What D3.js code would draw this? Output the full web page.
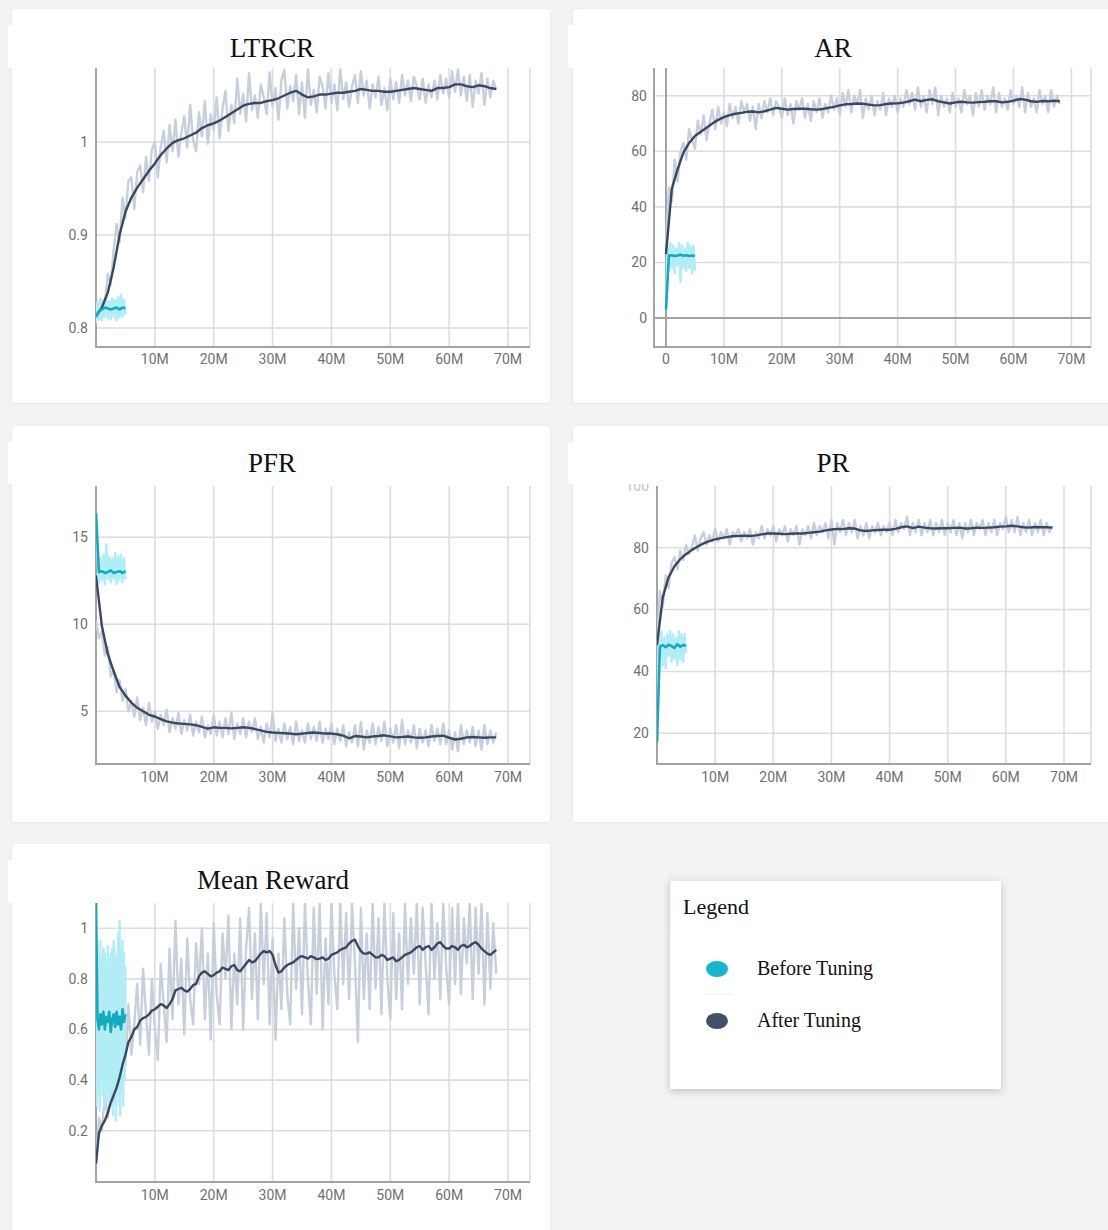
<!DOCTYPE html>
<html>
<head>
<meta charset="utf-8">
<script src="https://cdn.jsdelivr.net/npm/d3@7"></script>
<style>
  html, body { margin: 0; padding: 0; background: #f2f3f5; }
  svg { display: block; }
</style>
</head>
<body>
<svg id="chart" width="1108" height="1230"></svg>
<script>
// ---------- shared axis values ----------
const xTickValues = [10, 20, 30, 40, 50, 60, 70];
const xTickLabels = ["10M", "20M", "30M", "40M", "50M", "60M", "70M"];
const afterEndM = 68;   // last step of the tuned run (millions)
const beforeEndM = 5;   // last step of the untuned run (millions)

// ---------- LTRCR ----------
const ltrcrYTicks = [0.8, 0.9, 1];
const ltrcrAfterSmooth = [0.813,0.822,0.838,0.865,0.900,0.925,0.940,0.951,0.960,0.969,0.977,0.986,0.993,0.999,1.002,1.004,1.007,1.010,1.015,1.018,1.020,1.023,1.027,1.031,1.035,1.039,1.041,1.042,1.042,1.044,1.045,1.047,1.050,1.053,1.055,1.051,1.048,1.049,1.051,1.051,1.052,1.053,1.053,1.054,1.055,1.057,1.056,1.055,1.055,1.054,1.054,1.055,1.056,1.057,1.058,1.057,1.056,1.055,1.058,1.058,1.059,1.062,1.062,1.060,1.059,1.061,1.060,1.058,1.057];
const ltrcrAfterRaw = [0.816,0.809,0.830,0.826,0.858,0.846,0.884,0.912,0.892,0.940,0.918,0.958,0.962,0.928,0.968,0.975,0.946,0.984,0.958,0.992,1.000,0.962,0.994,1.012,0.978,1.018,0.990,1.024,0.984,1.010,1.028,0.994,1.040,1.002,0.990,1.032,1.006,1.044,0.998,1.030,1.012,1.048,1.004,1.036,1.055,1.012,1.040,1.020,1.068,1.030,1.052,1.022,1.074,1.034,1.050,1.026,1.062,1.048,1.030,1.075,1.038,1.058,1.024,1.066,1.078,1.036,1.060,1.044,1.072,1.030,1.064,1.026,1.078,1.040,1.056,1.032,1.070,1.060,1.036,1.074,1.042,1.062,1.034,1.078,1.046,1.064,1.038,1.060,1.072,1.042,1.076,1.050,1.066,1.036,1.062,1.048,1.070,1.040,1.058,1.034,1.068,1.046,1.064,1.042,1.072,1.050,1.066,1.044,1.070,1.060,1.046,1.068,1.042,1.062,1.048,1.066,1.046,1.072,1.052,1.068,1.048,1.076,1.054,1.078,1.050,1.070,1.044,1.072,1.038,1.066,1.052,1.074,1.040,1.068,1.048,1.066,1.056];
const ltrcrBeforeSmooth = [0.812,0.818,0.820,0.822,0.821,0.820,0.821,0.822,0.820,0.822,0.821];
const ltrcrBeforeRaw = [0.805,0.828,0.810,0.832,0.808,0.830,0.812,0.834,0.810,0.829,0.809,0.832,0.812,0.830,0.808,0.833,0.811,0.836,0.812,0.830,0.814];

// ---------- AR ----------
const arYTicks = [0, 20, 40, 60, 80];
const arAfterSmooth = [23,46.5,53.5,59.5,63,65.5,67,68.5,70,71.3,72.3,73,73.5,73.8,74.2,74.3,74,74.4,75,75.6,75.3,75,75.2,75.3,75.3,75.1,75,75.2,75.6,76,76.5,76.9,77,77.2,77.1,76.8,76.5,76.6,77,77.2,77.3,77.5,78,78.6,78,78.5,78.7,78,77.6,77.2,77.6,77.8,77.6,77.5,77.7,77.8,78,78,77.6,77.8,78.2,78.8,78.6,78,77.8,78.1,78,78.2,78];
const arAfterRaw = [26,47,42,57,49,60,63,57,68,64,61,71,66,73,64,70,75,68,76,70,74,69,77,72,76,70,78,74,77,71,76,68,77,72,78,74,79,73,78,76,72,79,73,77,70,78,75,79,72,77,71,78,74,79,72,77,74,80,75,79,73,81,76,82,74,80,77,82,72,79,75,80,73,78,75,81,73,79,76,80,74,79,76,82,77,81,75,83,76,80,74,82,77,83,73,80,76,79,74,81,76,79,74,82,77,80,73,81,76,82,75,80,77,83,74,81,76,79,75,82,77,80,76,83,74,81,76,79,74,82,77,80,74,82,76,80,77];
const arBeforeSmooth = [3,22.5,22.6,22.3,22.5,22.8,22.4,22.6,22.3,22.5,22.3];
const arBeforeRaw = [3,26,17,27,18,26,16,25,19,27,13,26,18,25,17,27,18,26,16,26,17];

// ---------- PFR ----------
const pfrYTicks = [5, 10, 15];
const pfrAfterSmooth = [12.8,9.9,8.3,7.3,6.4,5.9,5.5,5.2,5.0,4.8,4.7,4.55,4.42,4.35,4.3,4.28,4.25,4.2,4.1,4.0,4.08,4.05,4.05,4.02,4.05,4.08,4.05,3.98,3.9,3.82,3.78,3.76,3.74,3.72,3.68,3.72,3.75,3.78,3.75,3.72,3.72,3.68,3.6,3.45,3.58,3.55,3.5,3.55,3.58,3.62,3.56,3.5,3.52,3.55,3.5,3.48,3.5,3.55,3.58,3.6,3.48,3.38,3.42,3.5,3.52,3.5,3.48,3.5,3.5];
const pfrAfterRaw = [10.2,9.2,9.6,8.2,8.7,7.0,7.4,6.1,6.8,5.6,6.3,5.0,5.6,4.7,5.8,4.5,5.2,4.2,5.5,4.4,5.0,4.0,4.8,4.2,5.1,3.8,4.6,4.0,4.9,3.7,4.5,3.9,4.8,3.6,4.4,3.8,4.7,3.5,4.2,3.7,4.8,3.6,4.4,3.5,4.6,3.7,4.9,3.4,4.3,3.7,4.6,3.5,4.4,3.8,4.6,3.4,4.1,3.2,4.3,3.5,4.9,3.3,4.0,3.2,4.3,3.4,4.1,3.1,4.4,3.3,3.9,3.2,4.3,3.4,4.1,3.3,4.4,3.2,4.0,3.4,4.3,3.1,4.0,3.3,4.2,3.0,3.8,3.2,4.2,3.0,4.4,2.8,3.9,3.2,4.3,3.1,4.1,3.3,4.4,3.0,4.0,3.2,4.2,2.9,4.5,3.1,3.9,3.2,4.2,2.9,4.0,3.2,3.9,3.0,4.2,3.3,4.0,3.1,4.3,3.1,3.9,2.8,3.8,2.7,4.2,3.1,3.9,3.2,4.1,3.0,3.9,2.8,4.2,3.1,3.9,3.2,3.8];
const pfrBeforeSmooth = [16.4,13.0,13.05,12.95,13.0,13.1,12.95,13.0,13.05,12.95,13.05];
const pfrBeforeRaw = [16.4,13.9,12.4,13.8,12.5,14.0,12.3,14.6,12.6,13.9,12.4,13.8,12.6,14.1,12.3,13.9,12.5,14.0,12.4,13.8,12.6];

// ---------- PR ----------
const prYTicks = [20, 40, 60, 80];
const prAfterSmooth = [48.5,64,70.5,74,76.3,77.9,79.3,80.4,81.4,82.1,82.7,83.1,83.4,83.7,83.8,83.9,83.8,84.0,84.3,84.6,84.6,84.5,84.4,84.5,84.6,84.6,84.8,85.0,85.2,85.6,85.9,86.1,86.0,86.3,86.2,85.6,85.4,85.6,85.7,85.8,85.8,86.1,86.6,86.9,86.3,86.8,86.5,86.3,86.2,86.3,86.3,86.4,86.5,86.2,86.3,86.5,86.4,86.5,86.6,86.8,86.9,87.1,86.9,86.6,86.5,86.7,86.6,86.6,86.5];
const prAfterRaw = [50,66,61,71,67,75,77,73,79,76,81,78,80,84,79,83,85,81,84,82,86,82,85,83,86,81,85,84,86,82,85,83,86,81,85,83,87,83,86,84,87,82,86,84,87,82,86,84,87,81,86,84,87,83,88,84,87,85,88,83,89,81,88,85,89,84,88,85,89,83,87,84,88,83,87,85,88,84,87,85,88,84,89,85,88,86,90,84,88,85,89,84,88,85,89,84,88,85,89,84,88,85,89,84,88,83,88,85,89,84,88,86,89,84,88,85,89,84,88,86,90,85,89,85,90,84,88,85,89,84,88,85,89,84,88,85,87];
const prBeforeSmooth = [17,48,48.5,47.8,48.6,48.2,47.6,48.8,48.0,48.5,48.3];
const prBeforeRaw = [17,52,44,53,42,51,41,52,45,53,43,52,44,51,42,53,44,52,43,52,46];

// ---------- Mean Reward ----------
const mrYTicks = [0.2, 0.4, 0.6, 0.8, 1];
const mrAfterSmooth = [0.07,0.19,0.22,0.24,0.27,0.31,0.34,0.37,0.41,0.46,0.50,0.55,0.57,0.60,0.61,0.635,0.645,0.65,0.66,0.675,0.68,0.69,0.70,0.695,0.685,0.70,0.72,0.755,0.76,0.765,0.755,0.75,0.76,0.775,0.78,0.81,0.825,0.83,0.82,0.81,0.815,0.825,0.83,0.845,0.84,0.835,0.85,0.855,0.835,0.83,0.845,0.86,0.875,0.865,0.87,0.885,0.90,0.91,0.905,0.91,0.895,0.855,0.825,0.83,0.845,0.855,0.86,0.865,0.875,0.885,0.89,0.885,0.88,0.89,0.885,0.878,0.88,0.885,0.875,0.88,0.895,0.90,0.905,0.915,0.92,0.925,0.94,0.95,0.955,0.93,0.91,0.90,0.90,0.905,0.895,0.885,0.885,0.895,0.89,0.875,0.88,0.885,0.87,0.875,0.885,0.895,0.90,0.905,0.915,0.925,0.93,0.915,0.925,0.93,0.915,0.925,0.94,0.945,0.93,0.92,0.92,0.93,0.925,0.915,0.93,0.935,0.925,0.93,0.94,0.945,0.935,0.92,0.91,0.90,0.895,0.905,0.915];
const mrAfterRaw = [0.08,0.25,0.2,0.34,0.25,0.36,0.31,0.43,0.37,0.52,0.46,0.7,0.5,0.62,0.78,0.54,0.84,0.66,0.5,0.8,0.6,0.48,0.86,0.7,0.55,0.92,0.64,1.03,0.7,0.88,0.58,0.96,0.72,0.62,0.94,0.78,1.0,0.64,0.9,0.56,1.02,0.74,0.62,0.98,0.8,1.05,0.6,0.9,0.7,1.04,0.6,0.92,1.08,0.72,0.98,0.64,1.1,0.78,1.06,0.62,0.96,0.56,0.9,0.68,1.04,0.74,0.62,1.1,0.76,1.0,0.66,1.1,0.8,0.62,1.08,0.74,1.1,0.6,0.96,0.7,1.1,0.82,0.68,1.1,0.78,1.06,0.72,1.1,0.86,0.55,1.08,0.72,0.98,0.68,1.1,0.76,1.04,0.66,1.1,0.8,0.64,1.06,0.72,0.98,0.68,1.1,0.78,1.04,0.82,1.1,0.7,1.08,0.86,0.66,1.1,0.8,1.02,0.72,1.1,0.84,0.7,1.08,0.78,1.1,0.74,1.04,0.86,1.1,0.72,1.08,0.82,1.1,0.7,1.06,0.76,1.02,0.82];
const mrBeforeSmooth = [1.1,0.64,0.6,0.66,0.62,0.67,0.6,0.65,0.63,0.67,0.59,0.64,0.66,0.61,0.67,0.62,0.65,0.6,0.68,0.63,0.66];
const mrBeforeRaw = [1.1,0.3,0.95,0.35,0.9,0.28,0.95,0.4,0.88,0.34,0.92,0.3,0.9,0.38,0.86,0.32,0.93,0.36,0.88,0.3,0.9,0.35,0.92,0.26,0.95,0.38,0.9,0.24,0.88,0.34,0.98,0.3,1.03,0.26,0.92,0.36,0.95,0.3,0.9,0.4,0.85];

// ---------- legend ----------
const legendLabels = ["Before Tuning", "After Tuning"];

// ---------- style ----------
const C = {
  grid: "#dddddd",
  axis: "#a3a3a3",
  tick: "#707070",
  afterRaw: "#c8cfdc",
  afterLine: "#3b4760",
  beforeRaw: "#b2ecf4",
  beforeLine: "#14a9bd",
  dotBefore: "#17b6cd",
  dotAfter: "#435069"
};

// ---------- panel layout ----------
const panels = [
  { id: "ltrcr", title: "LTRCR", card: [12, 9, 538, 394], band: [8, 25, 542, 43], tx: 272, ty: 57,
    f: { l: 96, r: 530, t: 68, b: 347 }, xr: [96, 508], yd: [0.8, 1], yr: [328, 142],
    yTicks: ltrcrYTicks, lx: 88, xly: 364,
    after: [ltrcrAfterRaw, ltrcrAfterSmooth], before: [ltrcrBeforeRaw, ltrcrBeforeSmooth] },
  { id: "ar", title: "AR", card: [573, 9, 545, 394], band: [568, 25, 550, 43], tx: 833, ty: 57,
    f: { l: 654, r: 1091, t: 68, b: 347 }, xr: [666, 1071.4], yd: [0, 80], yr: [318, 95.7],
    yTicks: arYTicks, lx: 647, xly: 364, zeroLines: true,
    after: [arAfterRaw, arAfterSmooth], before: [arBeforeRaw, arBeforeSmooth] },
  { id: "pfr", title: "PFR", card: [12, 426, 538, 396], band: [8, 442, 542, 42], tx: 272, ty: 472,
    f: { l: 96, r: 530, t: 486, b: 764 }, xr: [96, 508], yd: [5, 15], yr: [711.3, 537.3],
    yTicks: pfrYTicks, lx: 88, xly: 782,
    after: [pfrAfterRaw, pfrAfterSmooth], before: [pfrBeforeRaw, pfrBeforeSmooth] },
  { id: "pr", title: "PR", card: [573, 426, 545, 396], band: [568, 442, 550, 42], tx: 833, ty: 472,
    f: { l: 657, r: 1091, t: 486, b: 764 }, xr: [657, 1064], yd: [20, 80], yr: [733.3, 547.7],
    yTicks: prYTicks, lx: 649, xly: 782, hiddenTop: 100,
    after: [prAfterRaw, prAfterSmooth], before: [prBeforeRaw, prBeforeSmooth] },
  { id: "mr", title: "Mean Reward", card: [12, 844, 538, 400], band: [8, 860, 542, 43], tx: 273, ty: 889,
    f: { l: 96, r: 530, t: 903, b: 1182 }, xr: [96, 508], yd: [0.2, 1], yr: [1130.7, 928.3],
    yTicks: mrYTicks, lx: 88, xly: 1200,
    after: [mrAfterRaw, mrAfterSmooth], before: [mrBeforeRaw, mrBeforeSmooth] }
];

const svg = d3.select("#chart");
const defs = svg.append("defs");

const shadow = defs.append("filter").attr("id", "cardShadow")
  .attr("x", "-10%").attr("y", "-10%").attr("width", "120%").attr("height", "120%");
shadow.append("feDropShadow").attr("dx", 0).attr("dy", 0.5).attr("stdDeviation", 0.8)
  .attr("flood-color", "#000").attr("flood-opacity", 0.08);

const legendShadow = defs.append("filter").attr("id", "legendShadow")
  .attr("x", "-10%").attr("y", "-10%").attr("width", "120%").attr("height", "125%");
legendShadow.append("feDropShadow").attr("dx", 0).attr("dy", 2).attr("stdDeviation", 4)
  .attr("flood-color", "#000").attr("flood-opacity", 0.22);

// pairs each value with its training step (millions)
function toPoints(values, endM) {
  const step = endM / (values.length - 1);
  return values.map((v, i) => [i * step, v]);
}

panels.forEach(p => {
  const g = svg.append("g").attr("class", "panel-" + p.id);
  const x = d3.scaleLinear().domain([0, 70]).range(p.xr);
  const y = d3.scaleLinear().domain(p.yd).range(p.yr);

  // card
  g.append("rect").attr("x", p.card[0]).attr("y", p.card[1])
    .attr("width", p.card[2]).attr("height", p.card[3]).attr("rx", 4)
    .attr("fill", "#fff").attr("filter", "url(#cardShadow)");

  // grid
  const grid = g.append("g");
  grid.selectAll("line.h").data(p.yTicks).join("line")
    .attr("x1", p.f.l).attr("x2", p.f.r)
    .attr("y1", d => y(d)).attr("y2", d => y(d))
    .attr("stroke", C.grid).attr("stroke-width", 1.6);
  grid.selectAll("line.v").data(xTickValues).join("line")
    .attr("x1", d => x(d)).attr("x2", d => x(d))
    .attr("y1", p.f.t).attr("y2", p.f.b)
    .attr("stroke", C.grid).attr("stroke-width", 1.6);
  grid.append("line").attr("x1", p.f.r).attr("x2", p.f.r).attr("y1", p.f.t).attr("y2", p.f.b)
    .attr("stroke", C.grid).attr("stroke-width", 1.6);

  if (p.zeroLines) {
    grid.append("line").attr("x1", p.f.l).attr("x2", p.f.r).attr("y1", y(0)).attr("y2", y(0))
      .attr("stroke", C.axis).attr("stroke-width", 2);
    grid.append("line").attr("x1", x(0)).attr("x2", x(0)).attr("y1", p.f.t).attr("y2", p.f.b)
      .attr("stroke", C.axis).attr("stroke-width", 2);
  }

  // axes
  g.append("line").attr("x1", p.f.l).attr("x2", p.f.l).attr("y1", p.f.t).attr("y2", p.f.b + 1)
    .attr("stroke", C.axis).attr("stroke-width", 2);
  g.append("line").attr("x1", p.f.l).attr("x2", p.f.r).attr("y1", p.f.b).attr("y2", p.f.b)
    .attr("stroke", C.axis).attr("stroke-width", 2);

  // tick labels
  const font = "Roboto, 'Open Sans', sans-serif";
  g.selectAll("text.yt").data(p.yTicks).join("text")
    .attr("x", p.lx).attr("y", d => y(d)).attr("dy", "0.35em")
    .attr("text-anchor", "end").attr("font-family", font).attr("font-size", 14)
    .attr("fill", C.tick).text(d => d3.format("~g")(d));
  if (p.hiddenTop) {
    g.append("text").attr("x", p.lx).attr("y", y(p.hiddenTop)).attr("dy", "0.35em")
      .attr("text-anchor", "end").attr("font-family", font).attr("font-size", 14)
      .attr("fill", "#c4c4c4").text(p.hiddenTop);
  }
  const xl = p.zeroLines ? [0, ...xTickValues] : xTickValues;
  const xlText = p.zeroLines ? ["0", ...xTickLabels] : xTickLabels;
  g.selectAll("text.xt").data(xl).join("text")
    .attr("x", d => x(d)).attr("y", p.xly)
    .attr("text-anchor", "middle").attr("font-family", font).attr("font-size", 14)
    .attr("fill", C.tick).text((d, i) => xlText[i]);

  // series
  const clipId = "clip-" + p.id;
  defs.append("clipPath").attr("id", clipId).append("rect")
    .attr("x", p.f.l).attr("y", p.f.t).attr("width", p.f.r - p.f.l).attr("height", p.f.b - p.f.t);
  const plot = g.append("g").attr("clip-path", `url(#${clipId})`);
  const line = d3.line().x(d => x(d[0])).y(d => y(d[1]));

  plot.append("path").attr("d", line(toPoints(p.after[0], afterEndM)))
    .attr("fill", "none").attr("stroke", C.afterRaw).attr("stroke-width", 2.4)
    .attr("stroke-linejoin", "round");
  plot.append("path").attr("d", line(toPoints(p.before[0], beforeEndM)))
    .attr("fill", "none").attr("stroke", C.beforeRaw).attr("stroke-width", 2.4)
    .attr("stroke-linejoin", "round");
  plot.append("path").attr("d", line(toPoints(p.after[1], afterEndM)))
    .attr("fill", "none").attr("stroke", C.afterLine).attr("stroke-width", 2.4)
    .attr("stroke-linejoin", "round");
  plot.append("path").attr("d", line(toPoints(p.before[1], beforeEndM)))
    .attr("fill", "none").attr("stroke", C.beforeLine).attr("stroke-width", 2.6)
    .attr("stroke-linejoin", "round");

  // title band
  g.append("rect").attr("x", p.band[0]).attr("y", p.band[1])
    .attr("width", p.band[2]).attr("height", p.band[3]).attr("fill", "#fff");
  g.append("text").attr("x", p.tx).attr("y", p.ty).attr("text-anchor", "middle")
    .attr("font-family", "'Liberation Serif', 'Times New Roman', serif")
    .attr("font-size", 27).attr("fill", "#111").text(p.title);
});

// ---------- legend ----------
const lg = svg.append("g").attr("class", "legend");
lg.append("rect").attr("x", 670).attr("y", 881).attr("width", 331).attr("height", 208)
  .attr("fill", "#fff").attr("filter", "url(#legendShadow)");
lg.append("line").attr("x1", 670).attr("x2", 670).attr("y1", 870).attr("y2", 930)
  .attr("stroke", "#dfe5f0").attr("stroke-width", 1);
lg.append("text").attr("x", 683).attr("y", 914)
  .attr("font-family", "'Liberation Serif', 'Times New Roman', serif")
  .attr("font-size", 22).attr("fill", "#111").text("Legend");
lg.append("line").attr("x1", 703).attr("x2", 733).attr("y1", 994).attr("y2", 994)
  .attr("stroke", "#eeeeee").attr("stroke-width", 1);
const entries = lg.selectAll("g.entry").data(legendLabels).join("g")
  .attr("transform", (d, i) => `translate(0, ${i === 0 ? 969 : 1021})`);
entries.append("ellipse").attr("cx", 717).attr("cy", 0).attr("rx", 11).attr("ry", 8)
  .attr("fill", (d, i) => i === 0 ? C.dotBefore : C.dotAfter);
entries.append("text").attr("x", 757).attr("y", 6)
  .attr("font-family", "'Liberation Serif', 'Times New Roman', serif")
  .attr("font-size", 20).attr("fill", "#111").text(d => d);
</script>
</body>
</html>
